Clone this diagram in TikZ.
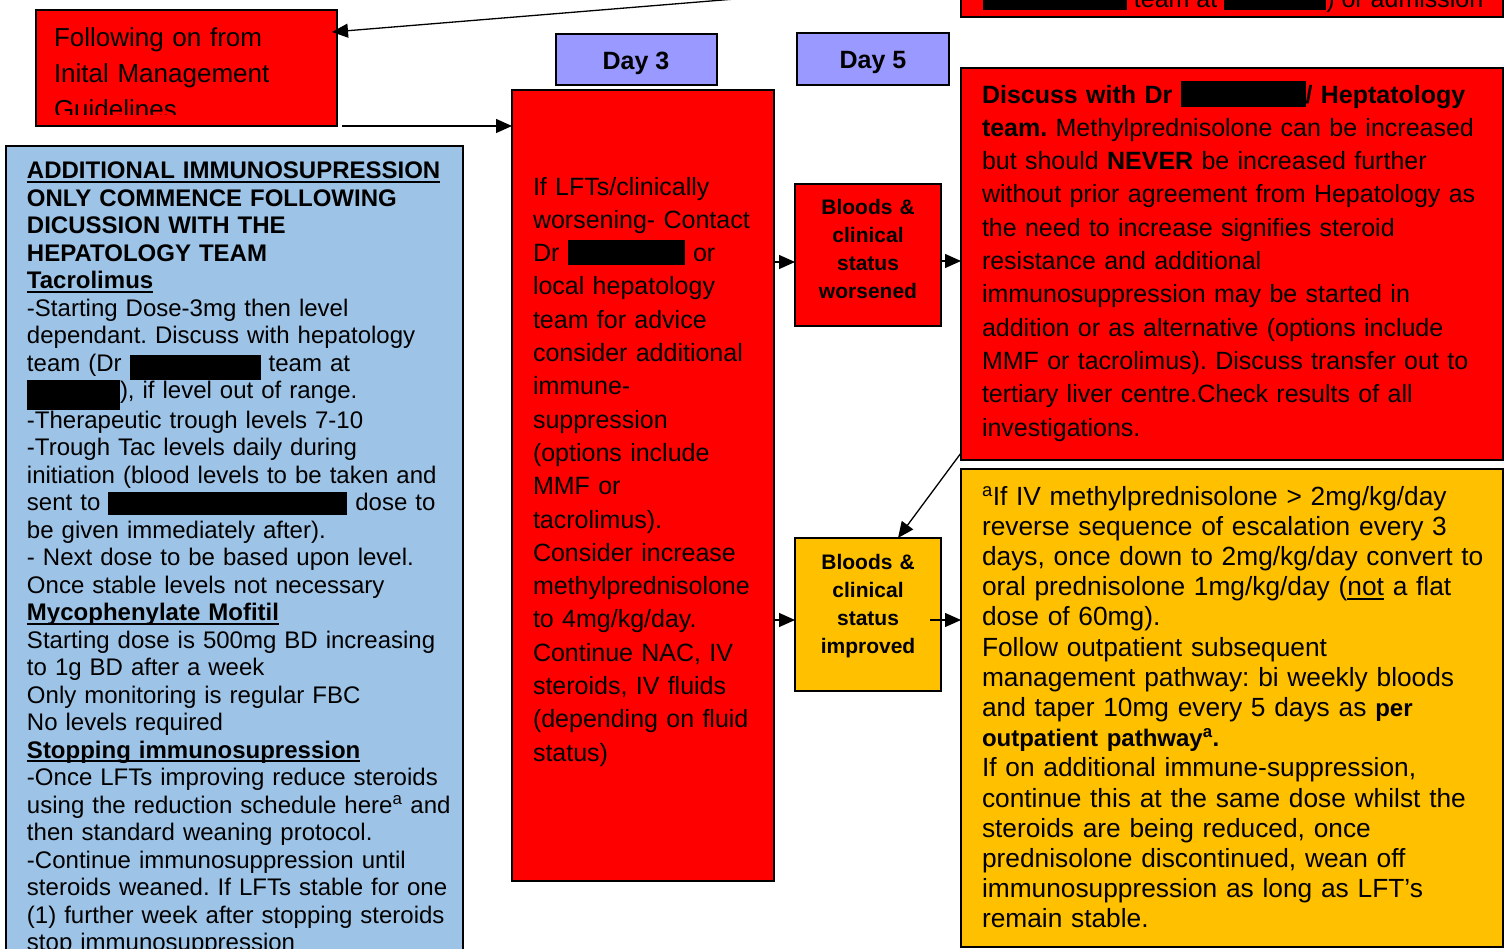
\documentclass[tikz,border=0pt]{standalone}
\usepackage{fontspec}
\setmainfont{Liberation Sans}
\usetikzlibrary{arrows.meta}
\definecolor{boxred}{RGB}{255,0,0}
\definecolor{boxorange}{RGB}{255,192,0}
\definecolor{boxblue}{RGB}{157,195,230}
\definecolor{daylav}{RGB}{153,153,255}
\newcommand{\hidebox}[3]{\rule[-#3pt]{#1pt}{\dimexpr #2pt+#3pt\relax}}
\newcommand{\myul}[1]{\leavevmode\begingroup\setbox0\hbox{#1}\rlap{\rule[-0.16em]{\wd0}{0.075em}}\box0\endgroup}
\frenchspacing
\begin{document}
\begin{tikzpicture}[x=1pt,y=-1pt,
 box/.style={draw=black, line width=2pt, inner sep=0pt, outer sep=0pt},
 redbox/.style={box, fill=boxred},
 orbox/.style={box, fill=boxorange},
 bluebox/.style={box, fill=boxblue},
 daybox/.style={box, fill=daylav, font=\bfseries\fontsize{25}{30}\selectfont, text height=19pt, text depth=0pt},
 txt/.style={inner sep=0pt, outer sep=0pt, anchor=north west, align=left, text width=#1, execute at begin node=\frenchspacing},
 txt/.default=560pt,
 ctxt/.style={inner sep=0pt, outer sep=0pt, anchor=north, align=center, text width=140pt, font=\bfseries\fontsize{21}{27.7}\selectfont},
 conn/.style={line width=1.3pt, -{Triangle[length=16pt,width=14pt]}}
]
\useasboundingbox (0,0) rectangle (1509,949);
\clip (0,0) rectangle (1509,949);
\fill[white] (0,0) rectangle (1509,949);

% boxes
\node[redbox, minimum width=542pt, minimum height=73pt] (topb) at (1232,-19.5) {};
\node[redbox, minimum width=301pt, minimum height=116pt] (follow) at (186.5,68) {};
\node[daybox, minimum width=161pt, minimum height=51pt] (day3) at (636,60) {Day 3};
\node[daybox, minimum width=152pt, minimum height=52pt] (day5) at (873,59) {Day 5};
\node[redbox, minimum width=262pt, minimum height=791pt] (mid) at (643,485.5) {};
\node[redbox, minimum width=146pt, minimum height=142pt] (worse) at (868,255) {};
\node[orbox, minimum width=146pt, minimum height=153pt] (impr) at (868,614.5) {};
\node[redbox, minimum width=542pt, minimum height=392pt] (disc) at (1232,264) {};
\node[orbox, minimum width=542pt, minimum height=478pt] (orng) at (1232,708) {};
\node[bluebox, minimum width=457pt, minimum height=854pt] (blue) at (234.5,573) {};

% texts
\node[inner sep=0pt, outer sep=0pt, anchor=base west, font=\fontsize{25}{30}\selectfont] (toptxt) at (983,8)
 {\hidebox{144}{23}{2} team at \hidebox{102}{23}{2}) or admission};

\begin{scope}
\clip (36,10) rectangle (337,115);
\node[txt, font=\fontsize{26}{36}\selectfont] (followtxt) at (54,21.5)
 {\strut Following on from\\Inital Management\\Guidelines};
\end{scope}

\node[txt, font=\fontsize{24}{27.5}\selectfont] (bluetxt) at (27,159.75)
 {\strut\myul{\textbf{ADDITIONAL IMMUNOSUPRESSION}}\\
 \textbf{ONLY COMMENCE FOLLOWING}\\
 \textbf{DICUSSION WITH THE}\\
 \textbf{HEPATOLOGY TEAM}\\
 \myul{\textbf{Tacrolimus}}\\
 -Starting Dose-3mg then level\\
 dependant. Discuss with hepatology\\
 team (Dr \hidebox{131}{16.5}{8.5} team at\\
 \hidebox{93}{19}{11}), if level out of range.\\
 -Therapeutic trough levels 7-10\\
 -Trough Tac levels daily during\\
 initiation (blood levels to be taken and\\
 sent to \hidebox{239}{19}{4} dose to\\
 be given immediately after).\\
 - Next dose to be based upon level.\\
 Once stable levels not necessary\\
 \myul{\textbf{Mycophenylate Mofitil}}\\
 Starting dose is 500mg BD increasing\\
 to 1g BD after a week\\
 Only monitoring is regular FBC\\
 No levels required\\
 \myul{\textbf{Stopping immunosupression}}\\
 -Once LFTs improving reduce steroids\\
 using the reduction schedule here\textsuperscript{a} and\\
 then standard weaning protocol.\\
 -Continue immunosuppression until\\
 steroids weaned. If LFTs stable for one\\
 (1) further week after stopping steroids\\
 stop immunosuppression};

\node[txt, font=\fontsize{25}{33.3}\selectfont] (midtxt) at (533,171.7)
 {\strut If LFTs/clinically\\
 worsening- Contact\\
 Dr \hidebox{117}{21.6}{3.4} or\\
 local hepatology\\
 team for advice\\
 consider additional\\
 immune-\\
 suppression\\
 (options include\\
 MMF or\\
 tacrolimus).\\
 Consider increase\\
 methylprednisolone\\
 to 4mg/kg/day.\\
 Continue NAC, IV\\
 steroids, IV fluids\\
 (depending on fluid\\
 status)};

\node[ctxt] (worsetxt) at (868,195.6) {\strut Bloods \&\\clinical\\status\\worsened};
\node[ctxt] (imprtxt) at (868,550.6) {\strut Bloods \&\\clinical\\status\\improved};

\node[txt, font=\fontsize{25}{33.3}\selectfont] (disctxt) at (982,79.7)
 {\strut\textbf{Discuss with Dr \hidebox{125}{22}{4}/ Heptatology}\\
 \textbf{team.} Methylprednisolone can be increased\\
 but should \textbf{NEVER} be increased further\\
 without prior agreement from Hepatology as\\
 the need to increase signifies steroid\\
 resistance and additional\\
 immunosuppression may be started in\\
 addition or as alternative (options include\\
 MMF or tacrolimus). Discuss transfer out to\\
 tertiary liver centre.Check results of all\\
 investigations.};

\node[txt, font=\fontsize{26.3}{30.2}\selectfont] (orngtxt) at (982,483.9)
 {\strut\textsuperscript{a}If IV methylprednisolone > 2mg/kg/day\\
 reverse sequence of escalation every 3\\
 days, once down to 2mg/kg/day convert to\\
 oral prednisolone 1mg/kg/day (\myul{not} a flat\\
 dose of 60mg).\\
 Follow outpatient subsequent\\
 management pathway: bi weekly bloods\\
 and taper 10mg every 5 days as {\bfseries\fontsize{24}{30.2}\selectfont per}\\
 {\bfseries\fontsize{24}{30.2}\selectfont outpatient pathway\textsuperscript{a}.}\\
 If on additional immune-suppression,\\
 continue this at the same dose whilst the\\
 steroids are being reduced, once\\
 prednisolone discontinued, wean off\\
 immunosuppression as long as LFT’s\\
 remain stable.};

% connectors
\coordinate (yA) at (0,32);
\coordinate (y262) at (0,262);
\coordinate (y261) at (0,261);
\coordinate (y620) at (0,620);
\draw[conn] (topb.west) -- ([xshift=-5pt]follow.east |- yA);
\draw[conn] ([xshift=5pt]follow.south east) -- (follow.south east -| mid.west);
\draw[conn] (mid.east |- y262) -- (worse.west |- y262);
\draw[conn] (worse.east |- y261) -- (disc.west |- y261);
\draw[conn] ([yshift=7pt]disc.south west) -- ([xshift=30pt]impr.north);
\draw[conn] (mid.east |- y620) -- (impr.west |- y620);
\draw[conn] ([xshift=-11pt]impr.east |- y620) -- (orng.west |- y620);
\end{tikzpicture}
\end{document}
